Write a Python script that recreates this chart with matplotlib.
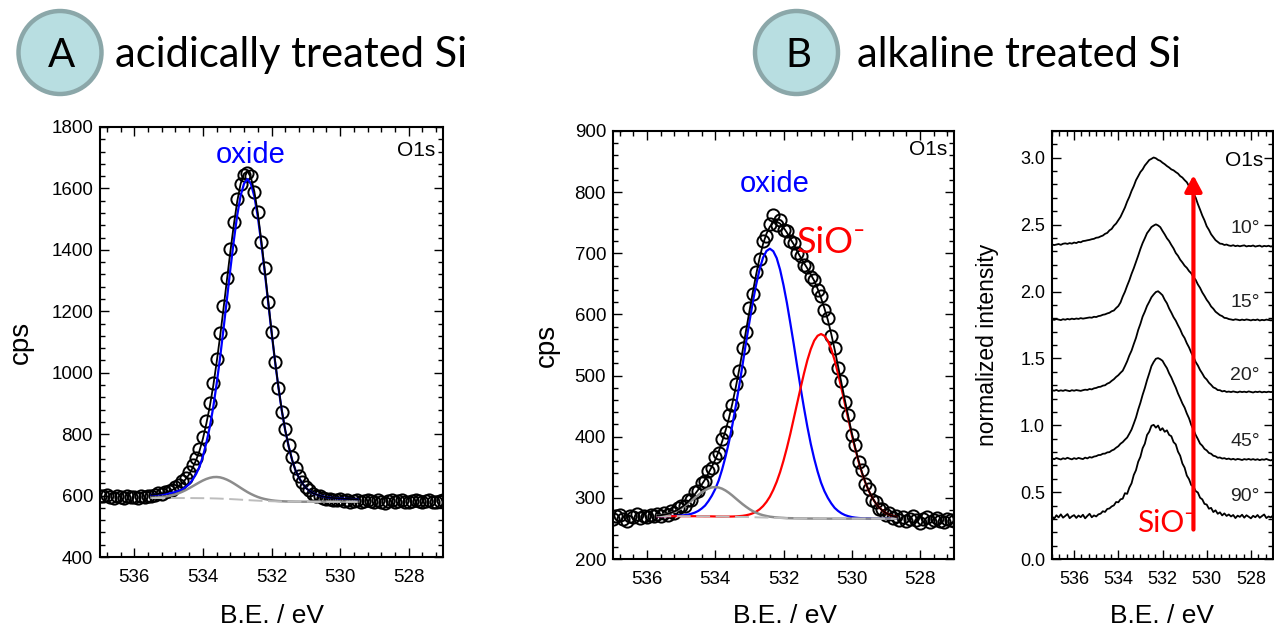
import numpy as np
import matplotlib
matplotlib.use('Agg')
import matplotlib.pyplot as plt
from matplotlib.ticker import MultipleLocator, AutoMinorLocator, FormatStrFormatter
from matplotlib.patches import Circle

plt.rcParams['font.family'] = ['Liberation Sans', 'DejaVu Sans']
plt.rcParams['lines.scale_dashes'] = False

# ---------------- energy grids (binding energy, eV) ----------------
be_data = np.round(np.arange(537.0, 526.95, -0.1), 2)    # 101 points
be_fit_a = np.round(np.arange(535.5, 529.45, -0.1), 2)   # 61 points
be_fit_b = np.round(np.arange(535.7, 528.65, -0.1), 2)   # 71 points

# ---------------- Panel A: acidically treated Si, O1s ----------------
a_counts = [
    599, 597, 601, 596, 593, 598, 595, 592, 597, 594, 596, 593, 598, 595, 597,
    600, 603, 607, 605, 612, 616, 619, 627, 634, 646,
    657, 676, 698, 722, 752, 792, 843, 900, 968, 1045,
    1130, 1218, 1308, 1402, 1490, 1565, 1615, 1645, 1650, 1640,
    1588, 1522, 1425, 1340, 1230, 1133, 1035, 950, 873, 818,
    764, 726, 690, 665, 645, 628, 617, 606, 600, 597,
    593, 590, 588, 586, 584, 589, 583, 585, 580, 582, 584,
    579, 583, 586, 581, 578, 584, 580, 577, 582, 586, 579, 581, 584, 578,
    580, 583, 587, 581, 579, 582, 585, 580, 578, 583, 584]
a_base = [
    592.0, 592.0, 592.0, 592.0, 592.0, 592.0, 592.0, 591.9, 591.9, 591.9,
    591.9, 591.9, 591.8, 591.7, 591.6, 591.5, 591.3, 591.1, 590.8, 590.5,
    590.1, 589.6, 589.1, 588.6, 588.0, 587.4, 586.7, 586.0, 585.3, 584.6,
    584.0, 583.4, 582.8, 582.4, 582.0, 581.5, 581.2, 580.9, 580.7, 580.5,
    580.4, 580.3, 580.2, 580.1, 580.0, 580.0, 580.0, 580.0, 580.0, 580.0,
    580.0, 580.0, 580.0, 580.0, 580.0, 580.0, 580.0, 580.0, 580.0, 580.0, 580.0]
a_oxide = [
    9.9, 10.7, 11.5, 12, 13, 15, 17, 20, 24, 28,
    36, 45, 60, 78, 102, 136, 180, 232, 296, 373,
    458, 552, 650, 748, 841, 925, 990, 1030, 1045, 1030,
    990, 925, 841, 748, 650, 552, 458, 373, 296, 232,
    180, 136, 102, 78, 60, 45, 36, 28, 24, 20,
    17, 15, 13, 12, 11.5, 10.7, 9.9, 9.3, 8.8, 8.3, 7.7]
a_minor = [
    0.8, 1.3, 2.0, 3.1, 4.5, 6.4, 8.9, 12.0, 16.0, 20.7,
    26.0, 32.1, 38.5, 45.1, 51.6, 57.6, 62.7, 66.6, 69.2, 70.0,
    69.2, 66.6, 62.7, 57.6, 51.6, 45.1, 38.5, 32.1, 26.0, 20.7,
    16.0, 12.0, 8.9, 6.4, 4.5, 3.1, 2.0, 1.3, 0.8, 0.5,
    0.3, 0.2, 0, 0, 0, 0, 0, 0, 0, 0,
    0, 0, 0, 0, 0, 0, 0, 0, 0, 0, 0]

# ---------------- Panel B1: alkaline treated Si, O1s ----------------
b_counts = [
    265, 270, 272, 266, 262, 271, 268, 273, 267, 270, 269, 272, 271,
    274, 270, 276, 272, 279, 276, 284, 287, 286, 296,
    297, 309, 311, 325, 328, 344, 349, 367, 373, 396,
    407, 435, 452, 486, 507, 545, 571, 610, 634, 670,
    690, 720, 729, 748, 762, 747, 755, 738, 737, 720,
    717, 700, 696, 681, 678, 662, 657, 640, 630, 607,
    594, 565, 545, 512, 491, 456, 436, 403, 386, 358,
    345, 322, 315, 297, 294, 281, 282, 272, 275, 267, 271,
    264, 268, 262, 266, 270, 263, 259, 265, 268, 261, 264, 267, 262, 260,
    265, 263, 262]
b_base = [
    270.0, 270.0, 270.0, 270.0, 270.0, 270.0, 270.0, 270.0, 270.0, 270.0,
    270.0, 270.0, 269.9, 269.9, 269.8, 269.8, 269.7, 269.6, 269.5, 269.4,
    269.3, 269.2, 269.1, 269.0, 268.9, 268.8, 268.7, 268.5, 268.4, 268.2,
    268.0, 267.9, 267.7, 267.5, 267.4, 267.2, 267.1, 266.9, 266.8, 266.7,
    266.6, 266.5, 266.4, 266.3, 266.2, 266.2, 266.1, 266.1, 266.0, 266.0,
    266.0, 266.0, 266.0, 266.0, 266.0, 266.0, 266.0, 266.0, 266.0, 266.0,
    266.0, 266.0, 266.0, 266.0, 266.0, 266.0, 266.0, 266.0, 266.0, 266.0, 266.0]
b_oxide = [
    0, 0, 0, 0.1, 0.3, 0.4, 0.7, 1.1, 1.7, 2.6,
    4.0, 5.9, 8.7, 12.6, 17.6, 25, 34, 45, 59, 77,
    98, 122, 150, 181, 214, 249, 285, 319, 352, 381,
    406, 425, 436, 440, 436, 425, 406, 381, 352, 319,
    285, 249, 214, 181, 150, 122, 98, 77, 59, 45,
    34, 25, 17.6, 12.6, 8.7, 5.9, 4.0, 2.6, 1.7, 1.1,
    0.7, 0.4, 0.3, 0.1, 0, 0, 0, 0, 0, 0, 0]
b_sio = [
    0, 0, 0, 0, 0, 0, 0, 0, 0, 0,
    0, 0, 0, 0, 0, 0, 0, 0, 0, 0,
    0.1, 0.2, 0.4, 0.7, 1.2, 1.8, 2.8, 4.3, 6.4, 9.3,
    13.3, 18.6, 25.6, 34.4, 45.6, 59, 75, 94, 115, 138,
    163, 188, 213, 237, 259, 277, 291, 299, 302, 299,
    291, 277, 259, 237, 213, 188, 163, 138, 115, 94,
    75, 59, 45.6, 34.4, 25.6, 18.6, 13.3, 9.3, 6.4, 4.3, 2.8]
b_minor = [
    1.1, 1.7, 2.6, 3.7, 5.3, 7.4, 9.9, 13.1, 16.8, 20.9,
    25.4, 30.0, 34.7, 39.0, 42.7, 45.6, 47.4, 48.0, 47.4, 45.6,
    42.7, 39.0, 34.7, 30.0, 25.4, 20.9, 16.8, 13.1, 9.9, 7.4,
    5.3, 3.7, 2.6, 1.7, 1.1, 0.7, 0.4, 0.3, 0, 0,
    0, 0, 0, 0, 0, 0, 0, 0, 0, 0,
    0, 0, 0, 0, 0, 0, 0, 0, 0, 0,
    0, 0, 0, 0, 0, 0, 0, 0, 0, 0, 0]

# ---------------- Panel B2: angle-resolved normalized spectra ----------------
angle_labels = ['10°', '15°', '20°', '45°', '90°']
angle_label_y = [2.47, 1.92, 1.37, 0.88, 0.47]
spec_10 = [
    2.352, 2.347, 2.351, 2.355, 2.349, 2.357, 2.360, 2.356, 2.362, 2.358,
    2.366, 2.362, 2.371, 2.368, 2.377, 2.379, 2.383, 2.386, 2.391, 2.394,
    2.402, 2.404, 2.412, 2.418, 2.431, 2.438, 2.457, 2.468, 2.492, 2.508,
    2.533, 2.558, 2.593, 2.628, 2.672, 2.708, 2.752, 2.788, 2.832, 2.862,
    2.893, 2.913, 2.942, 2.962, 2.983, 2.992, 3.002, 2.996, 2.984, 2.977,
    2.963, 2.952, 2.938, 2.927, 2.913, 2.906, 2.893, 2.882, 2.863, 2.852,
    2.833, 2.817, 2.788, 2.766, 2.733, 2.702, 2.654, 2.612, 2.568, 2.532,
    2.488, 2.461, 2.428, 2.406, 2.384, 2.371, 2.358, 2.356, 2.348, 2.351,
    2.344, 2.341, 2.346, 2.339, 2.343, 2.338, 2.342, 2.345, 2.337, 2.341,
    2.339, 2.344, 2.336, 2.340, 2.343, 2.335, 2.341, 2.338, 2.342, 2.336,
    2.340]
spec_15 = [
    1.792, 1.788, 1.794, 1.790, 1.786, 1.793, 1.789, 1.795, 1.791, 1.797,
    1.793, 1.798, 1.795, 1.801, 1.797, 1.800, 1.803, 1.806, 1.804, 1.811,
    1.809, 1.816, 1.819, 1.826, 1.829, 1.836, 1.841, 1.852, 1.858, 1.876,
    1.891, 1.918, 1.962, 1.998, 2.043, 2.084, 2.132, 2.174, 2.221, 2.268,
    2.318, 2.362, 2.398, 2.436, 2.458, 2.482, 2.493, 2.502, 2.494, 2.481,
    2.453, 2.427, 2.398, 2.377, 2.348, 2.322, 2.288, 2.267, 2.238, 2.217,
    2.193, 2.177, 2.153, 2.136, 2.108, 2.087, 2.053, 2.027, 1.993, 1.967,
    1.938, 1.916, 1.888, 1.871, 1.849, 1.836, 1.823, 1.816, 1.803, 1.801,
    1.794, 1.791, 1.787, 1.792, 1.789, 1.785, 1.790, 1.786, 1.791, 1.788,
    1.784, 1.789, 1.786, 1.791, 1.783, 1.788, 1.785, 1.790, 1.787, 1.784,
    1.786]
spec_20 = [
    1.262, 1.258, 1.264, 1.256, 1.261, 1.257, 1.263, 1.259, 1.255, 1.262,
    1.258, 1.263, 1.260, 1.257, 1.262, 1.266, 1.264, 1.271, 1.268, 1.276,
    1.279, 1.286, 1.288, 1.296, 1.299, 1.311, 1.318, 1.332, 1.344, 1.361,
    1.374, 1.392, 1.408, 1.442, 1.478, 1.522, 1.558, 1.607, 1.653, 1.712,
    1.758, 1.812, 1.849, 1.892, 1.923, 1.957, 1.978, 1.996, 2.002, 1.988,
    1.972, 1.938, 1.912, 1.873, 1.842, 1.808, 1.782, 1.748, 1.717, 1.678,
    1.652, 1.613, 1.582, 1.543, 1.512, 1.473, 1.447, 1.413, 1.387, 1.358,
    1.342, 1.318, 1.302, 1.283, 1.276, 1.263, 1.262, 1.253, 1.257, 1.249,
    1.252, 1.248, 1.253, 1.249, 1.246, 1.252, 1.248, 1.251, 1.247, 1.253,
    1.249, 1.245, 1.251, 1.248, 1.252, 1.246, 1.250, 1.247, 1.251, 1.248,
    1.250]
spec_45 = [
    0.752, 0.746, 0.755, 0.749, 0.744, 0.753, 0.748, 0.757, 0.750, 0.745,
    0.754, 0.748, 0.756, 0.751, 0.747, 0.758, 0.752, 0.762, 0.758, 0.766,
    0.769, 0.777, 0.778, 0.787, 0.788, 0.797, 0.799, 0.811, 0.818, 0.832,
    0.843, 0.862, 0.874, 0.892, 0.908, 0.937, 0.968, 1.012, 1.058, 1.117,
    1.168, 1.227, 1.278, 1.337, 1.388, 1.442, 1.473, 1.497, 1.502, 1.494,
    1.482, 1.453, 1.427, 1.388, 1.357, 1.318, 1.282, 1.238, 1.202, 1.163,
    1.132, 1.088, 1.052, 1.003, 0.967, 0.928, 0.897, 0.863, 0.847, 0.823,
    0.812, 0.793, 0.787, 0.772, 0.768, 0.757, 0.759, 0.751, 0.754, 0.747,
    0.751, 0.744, 0.749, 0.742, 0.748, 0.745, 0.740, 0.747, 0.743, 0.748,
    0.742, 0.747, 0.741, 0.746, 0.739, 0.745, 0.742, 0.748, 0.741, 0.737,
    0.744]
spec_90 = [
    0.318, 0.302, 0.327, 0.311, 0.334, 0.309, 0.322, 0.336, 0.305, 0.319,
    0.328, 0.307, 0.325, 0.313, 0.331, 0.304, 0.322, 0.338, 0.312, 0.326,
    0.318, 0.334, 0.339, 0.357, 0.352, 0.374, 0.378, 0.393, 0.401, 0.426,
    0.424, 0.446, 0.451, 0.492, 0.487, 0.534, 0.566, 0.628, 0.664, 0.727,
    0.764, 0.828, 0.862, 0.927, 0.952, 0.996, 1.003, 0.982, 0.998, 0.962,
    0.978, 0.951, 0.962, 0.928, 0.918, 0.874, 0.857, 0.803, 0.772, 0.714,
    0.683, 0.624, 0.597, 0.553, 0.542, 0.508, 0.497, 0.458, 0.446, 0.412,
    0.407, 0.376, 0.382, 0.351, 0.364, 0.338, 0.349, 0.326, 0.341, 0.322,
    0.333, 0.318, 0.329, 0.306, 0.324, 0.315, 0.331, 0.309, 0.327, 0.316,
    0.304, 0.323, 0.312, 0.329, 0.308, 0.321, 0.333, 0.306, 0.318, 0.311,
    0.325]
arrow_be = 530.6
arrow_from, arrow_to = 0.22, 2.87

# ---------------- figure ----------------
W, H = 1274, 634
fig = plt.figure(figsize=(W / 100, H / 100), dpi=100)


def px_axes(left, top, right, bottom):
    return fig.add_axes([left / W, 1 - bottom / H, (right - left) / W, (bottom - top) / H])


def style(ax, ymaj, xdiv, ydiv, fs):
    ax.set_xlim(537, 527)
    ax.xaxis.set_major_locator(MultipleLocator(2))
    ax.xaxis.set_minor_locator(AutoMinorLocator(xdiv))
    ax.yaxis.set_major_locator(MultipleLocator(ymaj))
    ax.yaxis.set_minor_locator(AutoMinorLocator(ydiv))
    ax.tick_params(which='both', direction='in', top=True, right=True,
                   width=1.0, labelsize=fs, colors='black')
    ax.tick_params(which='major', length=6.5)
    ax.tick_params(which='minor', length=3.5)
    ax.tick_params(axis='x', pad=9)
    ax.tick_params(axis='y', pad=5)
    for s in ax.spines.values():
        s.set_linewidth(1.5)


circ_kw = dict(ls='none', marker='o', ms=8.8, mfc='none', mec='black', mew=1.4, zorder=2)
dash_kw = dict(color='#bdbdbd', lw=1.4, dashes=(10, 4), zorder=4)

# ----- Panel A -----
axA = px_axes(100, 127, 443, 557)
a_base_arr = np.array(a_base)
axA.plot(be_data, a_counts, **circ_kw)
axA.plot(be_fit_a, a_base_arr + np.array(a_oxide), color='blue', lw=1.6, zorder=3)
axA.plot(be_fit_a, a_base_arr + np.array(a_minor), color='#8c8c8c', lw=1.8, zorder=3.5)
axA.plot(be_fit_a, a_base_arr, **dash_kw)
axA.plot(be_fit_a, a_base_arr + np.array(a_oxide) + np.array(a_minor), color='black', lw=1.3, zorder=5)
axA.set_ylim(400, 1800)
style(axA, 200, 5, 5, 13.5)
axA.text(532.6, 1683, 'oxide', color='blue', fontsize=21, ha='center', va='baseline')
axA.text(0.977, 0.9465, 'O1s', transform=axA.transAxes, fontsize=15, ha='right', va='center')
axA.set_xlabel('B.E. / eV', fontsize=19, va='center')
axA.xaxis.set_label_coords(0.5, -0.137)
axA.set_ylabel('cps', fontsize=20, va='center')
axA.yaxis.set_label_coords(-0.230, 0.5)

# ----- Panel B1 -----
axB = px_axes(613, 131, 954, 559)
b_base_arr = np.array(b_base)
axB.plot(be_data, b_counts, **circ_kw)
axB.plot(be_fit_b, b_base_arr + np.array(b_oxide), color='blue', lw=1.6, zorder=3)
axB.plot(be_fit_b, b_base_arr + np.array(b_sio), color='red', lw=1.6, zorder=3.2)
axB.plot(be_fit_b, b_base_arr + np.array(b_minor), color='#8c8c8c', lw=1.8, zorder=3.5)
axB.plot(be_fit_b, b_base_arr, **dash_kw)
axB.plot(be_fit_b, b_base_arr + np.array(b_oxide) + np.array(b_sio) + np.array(b_minor),
         color='black', lw=1.3, zorder=5)
axB.set_ylim(200, 900)
style(axB, 100, 5, 5, 13.5)
axB.text(532.25, 800, 'oxide', color='blue', fontsize=21, ha='center', va='baseline')
axB.text(531.6, 700, 'SiO\u207b', color='red', fontsize=26, ha='left', va='baseline',
         family=['Lato', 'DejaVu Sans'])
axB.text(0.979, 0.956, 'O1s', transform=axB.transAxes, fontsize=15, ha='right', va='center')
axB.set_xlabel('B.E. / eV', fontsize=19, va='center')
axB.xaxis.set_label_coords(0.504, -0.133)
axB.set_ylabel('cps', fontsize=20, va='center')
axB.yaxis.set_label_coords(-0.194, 0.5)

# ----- Panel B2 -----
axC = px_axes(1052, 131, 1273, 559)
for spec in [spec_10, spec_15, spec_20, spec_45, spec_90]:
    axC.plot(be_data, spec, color='black', lw=1.3, zorder=3)
axC.set_ylim(0, 3.2)
style(axC, 0.5, 6, 5, 13)
axC.yaxis.set_major_formatter(FormatStrFormatter('%.1f'))
axC.annotate('', xy=(arrow_be, arrow_to), xytext=(arrow_be, arrow_from),
             arrowprops=dict(arrowstyle='-|>,head_length=0.6,head_width=0.32',
                             color='red', lw=3, mutation_scale=16,
                             shrinkA=0, shrinkB=0), zorder=6)
for lab, yy in zip(angle_labels, angle_label_y):
    axC.text(527.6, yy, lab, fontsize=14, color='#222222', ha='right', va='center')
axC.text(533.15, 0.204, 'SiO\u207b', color='red', fontsize=21.5, ha='left', va='baseline',
         family=['Lato', 'DejaVu Sans'])
axC.text(0.955, 0.932, 'O1s', transform=axC.transAxes, fontsize=15, ha='right', va='center')
axC.set_xlabel('B.E. / eV', fontsize=19, va='center')
axC.xaxis.set_label_coords(0.498, -0.133)
axC.set_ylabel('normalized intensity', fontsize=16.5, va='center')
axC.yaxis.set_label_coords(-0.29, 0.5)

# ----- title badges -----
ov = fig.add_axes([0, 0, 1, 1], zorder=10)
ov.set_xlim(0, W)
ov.set_ylim(H, 0)
ov.axis('off')
badges = [('A', 60, 'acidically treated Si', 115), ('B', 796.5, 'alkaline treated Si', 857)]
for letter, cx, title, tx in badges:
    ov.add_patch(Circle((cx, 52.5), 41.5, facecolor='#b8dee1', edgecolor='#8ba7a9', lw=3.2))
    ov.text(cx + 1.5, 67, letter, fontsize=29, family=['Lato', 'DejaVu Sans'],
            ha='center', va='baseline', color='black')
    ov.text(tx, 67, title, fontsize=30, family=['Lato', 'DejaVu Sans'],
            ha='left', va='baseline', color='black')

fig.savefig('out.png', dpi=100)
